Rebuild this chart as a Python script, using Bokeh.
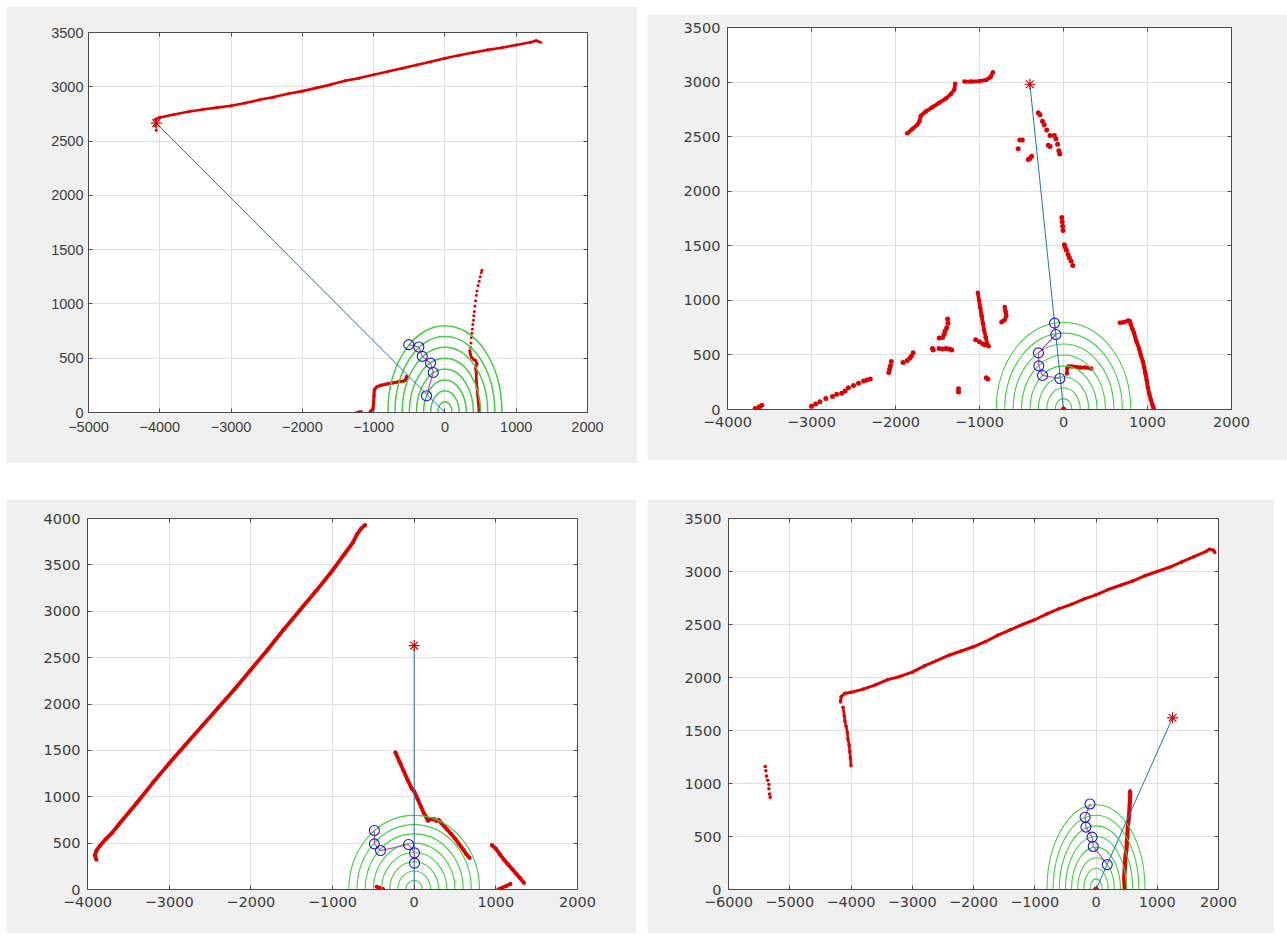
from bokeh.plotting import figure
from bokeh.layouts import row, column
from bokeh.models import Range1d, FixedTicker, LinearAxis, Spacer
from bokeh.embed import file_html
from bokeh.resources import INLINE

# ---------------- shared ----------------
ARC_RADII = [100, 200, 300, 400, 500, 600, 700, 800]

# ---------------- panel 1 ----------------
P1_XTICKS = [-5000, -4000, -3000, -2000, -1000, 0, 1000, 2000]
P1_YTICKS = [0, 500, 1000, 1500, 2000, 2500, 3000, 3500]
P1_WALL_X = [-4060, -4000, -3800, -3600, -3400, -3200, -3000, -2800, -2600, -2400, -2200, -2000,
             -1800, -1600, -1400, -1200, -1000, -800, -600, -400, -200, 0, 200, 400, 600, 800,
             1000, 1200, 1280, 1340]
P1_WALL_Y = [2700, 2718, 2745, 2770, 2790, 2808, 2825, 2850, 2880, 2905, 2935, 2960,
             2990, 3020, 3055, 3080, 3110, 3140, 3170, 3200, 3230, 3262, 3290, 3315, 3340, 3360,
             3385, 3410, 3425, 3410]
P1_LEFT_A_X = [-1240, -1200, -1170]
P1_LEFT_A_Y = [0, 5, 8]
P1_LEFT_B_X = [-1050, -1010, -1000, -995, -990, -960, -900, -820, -740, -660, -580, -550, -540, -530]
P1_LEFT_B_Y = [10, 30, 90, 160, 210, 235, 250, 262, 272, 282, 290, 300, 335, 310]
P1_RIGHT_X = [480, 470, 460, 450, 440, 440, 430, 450, 430, 400, 370, 355, 350]
P1_RIGHT_Y = [0, 80, 160, 230, 300, 360, 410, 450, 480, 490, 510, 540, 570]
P1_DOTS_X = [-4060, -4050, 360, 365, 370, 378, 385, 392, 400, 405, 412, 420, 430, 440, 450, 465, 480, 495, 510, 520]
P1_DOTS_Y = [2640, 2600, 600, 640, 690, 730, 770, 810, 850, 890, 930, 980, 1030, 1080, 1120, 1170, 1210, 1250, 1290, 1310]
P1_PATH_X = [-258, -164, -202, -318, -366, -507]
P1_PATH_Y = [154, 369, 455, 517, 603, 625]
P1_TARGET = [-4050, 2665]

# ---------------- panel 2 ----------------
P2_XTICKS = [-4000, -3000, -2000, -1000, 0, 1000, 2000]
P2_YTICKS = [0, 500, 1000, 1500, 2000, 2500, 3000, 3500]
P2_TOP_A_X = [-1860, -1800, -1740, -1715, -1700, -1640, -1560, -1480, -1400, -1340, -1300, -1290]
P2_TOP_A_Y = [2530, 2570, 2610, 2640, 2690, 2730, 2770, 2810, 2850, 2890, 2930, 2985]
P2_TOP_B_X = [-1180, -1100, -1000, -920, -870, -840]
P2_TOP_B_Y = [3005, 3005, 3008, 3020, 3045, 3090]
P2_POLE_X = [-1020, -1005, -990, -975, -960, -945, -925, -910, -890]
P2_POLE_Y = [1070, 1000, 930, 860, 790, 730, 660, 600, 580]
P2_RIGHT_X = [670, 720, 770, 790, 800, 820, 840, 870, 900, 920, 945, 960, 975, 990, 1005, 1020, 1040, 1060, 1075]
P2_RIGHT_Y = [795, 800, 815, 810, 780, 740, 700, 620, 560, 500, 440, 390, 330, 270, 200, 150, 90, 40, 5]
P2_INNER_X = [40, 45, 60, 100, 150, 200, 260, 330]
P2_INNER_Y = [330, 380, 395, 395, 390, 385, 385, 375]
P2_HOOK_X = [-700, -690, -680, -700, -720, -740]
P2_HOOK_Y = [940, 900, 860, 820, 810, 800]
P2_DOTS_X = [-300, -280, -250, -230, -200, -160, -110, -90, -70, -55, -45, -180, -160, -520, -490, -540,
             -420, -400, -380,
             -20, -15, -10, -5, 10, 20, 35, 55, 70, 90, 110,
             -1045, -1000, -960, -930,
             -1380, -1375, -1390, -1410, -1420, -1440, -1480,
             -1560, -1550, -1480, -1440, -1400, -1360, -1330,
             -1790, -1810, -1830, -1860, -1910,
             -2050, -2060, -2070, -2080,
             -2300, -2340, -2380, -2440, -2500, -2560, -2600, -2640, -2700, -2750, -2830, -2900, -2950, -3000,
             -3670, -3620, -3590, -1250, -1250, -920, -900]
P2_DOTS_Y = [2720, 2700, 2640, 2610, 2560, 2510, 2510, 2480, 2430, 2370, 2340, 2420, 2410, 2470, 2470, 2390,
             2290, 2300, 2320,
             1760, 1720, 1680, 1640, 1510, 1490, 1460, 1420, 1390, 1360, 1320,
             640, 620, 600, 590,
             830, 790, 750, 720, 690, 660, 655,
             560, 545, 560, 555, 560, 555, 545,
             520, 490, 470, 450, 430,
             440, 400, 370, 340,
             280, 270, 260, 240, 220, 200, 170, 150, 140, 120, 100, 70, 50, 30,
             10, 25, 40, 190, 160, 290, 280]
P2_PATH_X = [-44, -250, -294, -298, -91, -107]
P2_PATH_Y = [284, 312, 400, 519, 687, 791]
P2_TARGET = [-400, 2980]

# ---------------- panel 3 ----------------
P3_XTICKS = [-4000, -3000, -2000, -1000, 0, 1000, 2000]
P3_YTICKS = [0, 500, 1000, 1500, 2000, 2500, 3000, 3500, 4000]
P3_WALL_X = [-3890, -3910, -3890, -3850, -3780, -3700, -3600, -3400, -3200, -3000, -2800, -2600, -2400,
             -2200, -2000, -1800, -1600, -1400, -1200, -1000, -850, -750, -700, -650, -600]
P3_WALL_Y = [320, 370, 420, 470, 540, 610, 720, 930, 1150, 1360, 1560, 1760, 1960,
             2160, 2370, 2580, 2800, 3010, 3220, 3440, 3620, 3740, 3830, 3890, 3930]
P3_MID_X = [-230, -180, -130, -80, -30, 0, 40, 80, 120, 150, 170, 200, 240, 270, 300, 330, 370, 400,
            450, 500, 550, 600, 640, 680]
P3_MID_Y = [1480, 1380, 1280, 1180, 1090, 1060, 980, 900, 820, 780, 740, 760, 760, 740, 750, 720, 680, 650,
            600, 550, 490, 430, 380, 340]
P3_RIGHT_X = [950, 1000, 1050, 1100, 1150, 1200, 1250, 1300, 1345]
P3_RIGHT_Y = [480, 440, 380, 320, 270, 220, 170, 120, 70]
P3_LOW_X = [1030, 1080, 1130, 1180]
P3_LOW_Y = [0, 20, 40, 60]
P3_FOOT_X = [-460, -420, -380]
P3_FOOT_Y = [30, 20, 5]
P3_PATH_X = [4, 4, -69, -412, -487, -487]
P3_PATH_Y = [284, 395, 485, 420, 492, 636]
P3_TARGET = [0, 2630]

# ---------------- panel 4 ----------------
P4_XTICKS = [-6000, -5000, -4000, -3000, -2000, -1000, 0, 1000, 2000]
P4_YTICKS = [0, 500, 1000, 1500, 2000, 2500, 3000, 3500]
P4_WALL_X = [-4170, -4160, -4100, -4000, -3800, -3600, -3400, -3200, -3000, -2800, -2600, -2400, -2200,
             -2000, -1800, -1600, -1400, -1200, -1000, -800, -600, -400, -200, 0, 200, 400, 600, 800,
             1000, 1200, 1400, 1600, 1800, 1850, 1920, 1940]
P4_WALL_Y = [1770, 1820, 1850, 1860, 1890, 1930, 1980, 2010, 2050, 2110, 2160, 2210, 2250,
             2290, 2340, 2400, 2450, 2500, 2545, 2600, 2650, 2690, 2740, 2780, 2830, 2870, 2910, 2960,
             3000, 3040, 3090, 3140, 3190, 3210, 3200, 3180]
P4_EDGE_X = [-4130, -4110, -4100, -4080, -4060, -4050, -4030, -4020, -4010, -4000]
P4_EDGE_Y = [1720, 1640, 1590, 1540, 1480, 1420, 1360, 1300, 1240, 1170]
P4_FAR_X = [-5400, -5390, -5380, -5360, -5340, -5340, -5330, -5320]
P4_FAR_Y = [1160, 1120, 1070, 1030, 990, 950, 900, 870]
P4_POST_X = [470, 460, 470, 480, 500, 510, 520, 540, 550, 560, 555]
P4_POST_Y = [0, 100, 200, 300, 400, 500, 600, 700, 800, 900, 930]
P4_PATH_X = [184, -45, -64, -165, -178, -98]
P4_PATH_Y = [235, 406, 494, 588, 682, 807]
P4_TARGET = [1250, 1620]

RED = "#e00000"
GREEN = "#3fcf3f"
BLUE_LINE = "#1f72b8"
CIRCLE = "#1a1ad0"
PATH = "#b84db8"
AXIS = "#4a4a4a"


def make_panel(width, height, left, right, top, bottom, xr, yr, xticks, yticks,
               font, fsize, ystand, xstand):
    p = figure(width=width, height=height, x_range=Range1d(*xr), y_range=Range1d(*yr),
               output_backend="svg", toolbar_location=None,
               min_border_left=left, min_border_right=right,
               min_border_top=top, min_border_bottom=bottom)
    p.border_fill_color = "#f0f0f0"
    p.background_fill_color = "#ffffff"
    p.outline_line_color = AXIS
    p.outline_line_width = 1
    p.xaxis.ticker = FixedTicker(ticks=xticks)
    p.yaxis.ticker = FixedTicker(ticks=yticks)
    p.xgrid.ticker = FixedTicker(ticks=xticks)
    p.ygrid.ticker = FixedTicker(ticks=yticks)
    p.grid.grid_line_color = "#e0e0e0"
    p.grid.grid_line_width = 1
    for ax in list(p.xaxis) + list(p.yaxis):
        ax.major_tick_in = 4
        ax.major_tick_out = 0
        ax.minor_tick_in = 0
        ax.minor_tick_out = 0
        ax.axis_line_color = AXIS
        ax.major_tick_line_color = AXIS
        ax.major_label_text_font = font
        ax.major_label_text_font_size = fsize
        ax.major_label_text_color = "#3c3c3c"
    p.yaxis.major_label_standoff = ystand
    p.xaxis.major_label_standoff = xstand
    # box-style ticks on the top and right edges, without labels
    for loc, tk in (("right", yticks), ("above", xticks)):
        ax = LinearAxis(ticker=FixedTicker(ticks=tk))
        ax.major_tick_in = 4
        ax.major_tick_out = 0
        ax.minor_tick_in = 0
        ax.minor_tick_out = 0
        ax.major_label_text_font_size = "1px"
        ax.major_label_text_color = None
        ax.major_label_standoff = 0
        ax.axis_line_color = AXIS
        ax.major_tick_line_color = AXIS
        p.add_layout(ax, loc)
    return p


def add_common(p, path_x, path_y, target, origin_dot=False, arc_w=1.1):
    p.ellipse(x=[0] * len(ARC_RADII), y=[0] * len(ARC_RADII),
              width=[2 * r for r in ARC_RADII], height=[2 * r for r in ARC_RADII],
              fill_color=None, line_color=GREEN, line_width=arc_w)
    p.line([0, target[0]], [0, target[1]], line_color=BLUE_LINE, line_width=1)
    p.line(path_x, path_y, line_color=PATH, line_width=1.2)
    p.scatter(path_x, path_y, marker="circle", size=10, fill_color=None,
              line_color=CIRCLE, line_width=1.1)
    p.scatter([target[0]], [target[1]], marker="asterisk", size=11, line_color=RED, line_width=1.2)
    if origin_dot:
        p.scatter([0], [0], marker="circle", size=5, fill_color=RED, line_color=RED)


def dense(p, xs, ys, w=2.6, s=3.5):
    p.line(xs, ys, line_color=RED, line_width=w)
    p.scatter(xs, ys, marker="circle", size=s, fill_color=RED, line_color=None)


def dots(p, xs, ys, s=3.5):
    p.scatter(xs, ys, marker="circle", size=s, fill_color=RED, line_color=None)


# ---- panel 1 ----
p1 = make_panel(631, 457, 82, 50, 26, 51, (-5000, 2000), (0, 3500), P1_XTICKS, P1_YTICKS,
                "Liberation Sans", "14.5px", 5, 9)
dense(p1, P1_WALL_X, P1_WALL_Y, w=2.6, s=3.2)
dense(p1, P1_LEFT_A_X, P1_LEFT_A_Y, w=3, s=3)
dense(p1, P1_LEFT_B_X, P1_LEFT_B_Y, w=3.2, s=3)
dense(p1, P1_RIGHT_X, P1_RIGHT_Y, w=2.8, s=3)
dots(p1, P1_DOTS_X, P1_DOTS_Y, s=3)
add_common(p1, P1_PATH_X, P1_PATH_Y, P1_TARGET, arc_w=1.5)

# ---- panel 2 ----
p2 = make_panel(640, 446, 80, 56, 13, 51, (-4000, 2000), (0, 3500), P2_XTICKS, P2_YTICKS,
                "DejaVu Sans", "14.5px", 7, 7)
dense(p2, P2_TOP_A_X, P2_TOP_A_Y, w=3.8, s=4.5)
dense(p2, P2_TOP_B_X, P2_TOP_B_Y, w=3.8, s=4.5)
dense(p2, P2_POLE_X, P2_POLE_Y, w=3.8, s=4.5)
dense(p2, P2_RIGHT_X, P2_RIGHT_Y, w=4, s=4.5)
dense(p2, P2_INNER_X, P2_INNER_Y, w=3.4, s=4.5)
dense(p2, P2_HOOK_X, P2_HOOK_Y, w=3.8, s=4.5)
dots(p2, P2_DOTS_X, P2_DOTS_Y, s=5)
add_common(p2, P2_PATH_X, P2_PATH_Y, P2_TARGET, origin_dot=True)

# ---- panel 3 ----
p3 = make_panel(630, 434, 81, 59, 19, 44, (-4000, 2000), (0, 4000), P3_XTICKS, P3_YTICKS,
                "DejaVu Sans", "14.5px", 7, 7)
dense(p3, P3_WALL_X, P3_WALL_Y, w=3.8, s=4)
dense(p3, P3_MID_X, P3_MID_Y, w=3.8, s=4)
dense(p3, P3_RIGHT_X, P3_RIGHT_Y, w=3.8, s=4)
dense(p3, P3_LOW_X, P3_LOW_Y, w=3.6, s=4)
dense(p3, P3_FOOT_X, P3_FOOT_Y, w=3.6, s=4)
add_common(p3, P3_PATH_X, P3_PATH_Y, P3_TARGET)

# ---- panel 4 ----
p4 = make_panel(627, 434, 81, 56, 19, 42, (-6000, 2000), (0, 3500), P4_XTICKS, P4_YTICKS,
                "DejaVu Sans", "14.5px", 7, 7)
dense(p4, P4_WALL_X, P4_WALL_Y, w=3, s=3.6)
dense(p4, P4_EDGE_X, P4_EDGE_Y, w=2.6, s=3.6)
dots(p4, P4_FAR_X, P4_FAR_Y, s=3.6)
dense(p4, P4_POST_X, P4_POST_Y, w=4.2, s=3.6)
add_common(p4, P4_PATH_X, P4_PATH_Y, P4_TARGET, origin_dot=True)

layout = column(
    Spacer(height=6),
    row(Spacer(width=6), p1, Spacer(width=10), column(Spacer(height=8), p2)),
    Spacer(height=36),
    row(Spacer(width=6), p3, Spacer(width=11), p4),
)

open("out.html", "w").write(file_html(layout, INLINE))
